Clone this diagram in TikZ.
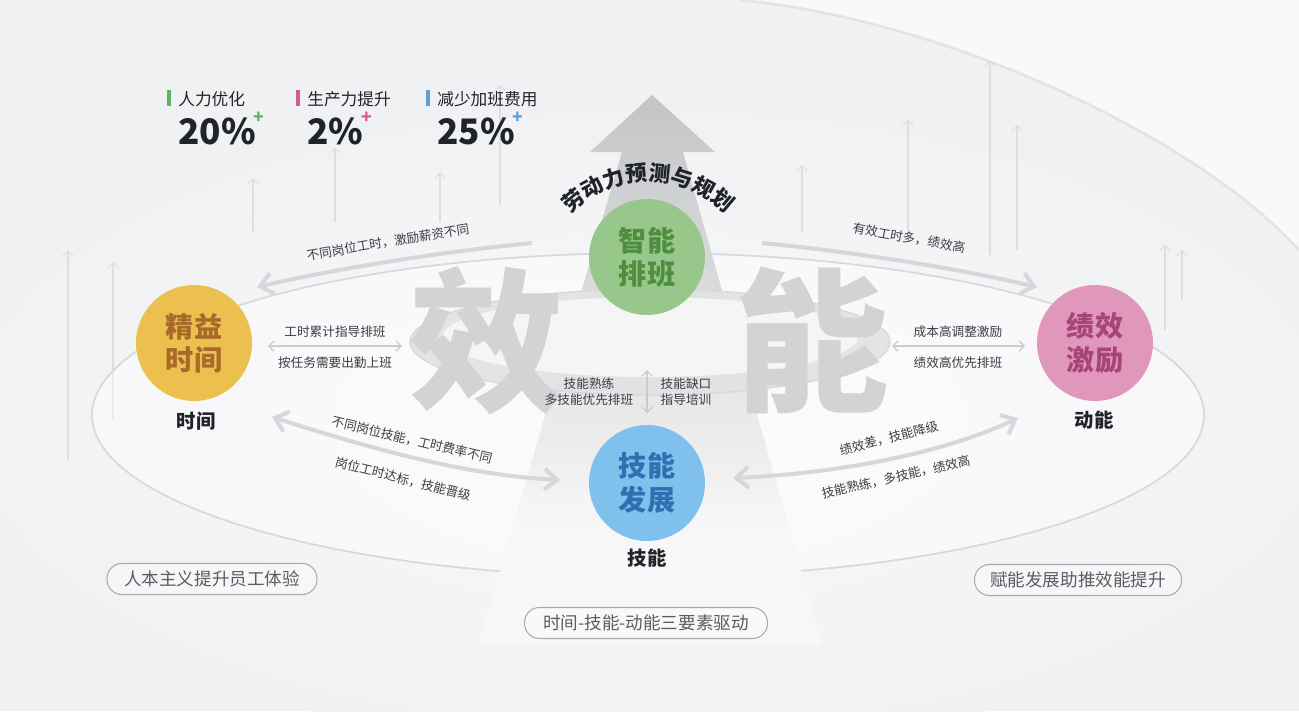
\documentclass[tikz,border=0pt]{standalone}
\usepackage{fontspec}
\setmainfont{Noto Sans CJK SC}
\usetikzlibrary{arrows.meta,decorations.text,positioning}
\definecolor{bgc}{HTML}{F0F1F3}
\definecolor{glowc}{HTML}{F9F9FA}
\definecolor{txtc}{HTML}{3A3D44}
\definecolor{darkc}{HTML}{20232B}
\definecolor{arrc}{HTML}{D5D7DA}
\definecolor{twinc}{HTML}{C9CBCE}
\definecolor{ghostc}{HTML}{DDDEE1}
\definecolor{rimc}{HTML}{D8D9DC}
\definecolor{dishc}{HTML}{E1E2E4}
\definecolor{grnc}{HTML}{98C78B}
\definecolor{grnt}{HTML}{4F8D3F}
\definecolor{ylwc}{HTML}{ECC04F}
\definecolor{ylwt}{HTML}{A86A2B}
\definecolor{pnkc}{HTML}{E197BC}
\definecolor{pnkt}{HTML}{A6457A}
\definecolor{bluc}{HTML}{80C0EC}
\definecolor{blut}{HTML}{2F70B2}
\definecolor{pilc}{HTML}{5A5D63}
\definecolor{pilb}{HTML}{A9ABAF}
\definecolor{sgrn}{HTML}{5DB463}
\definecolor{spnk}{HTML}{D9589A}
\definecolor{sblu}{HTML}{5B9FDA}
\definecolor{bigc}{HTML}{D2D3D5}
\definecolor{beamt}{HTML}{C4C5C7}
\definecolor{beamb}{HTML}{F7F7F8}
\begin{document}
\begin{tikzpicture}[x=0.02cm,y=-0.02cm,>={Straight Barb[length=7pt,width=12pt]},
  hub/.style={circle,minimum size=2.32cm,inner sep=0pt,align=center,font=\fontsize{16}{19}\selectfont\bfseries},
  tagcap/.style={font=\fontsize{11}{13}\selectfont\bfseries,text=darkc,inner sep=1pt},
  lbl/.style={font=\fontsize{7.2}{9}\selectfont,text=txtc,inner sep=1pt},
  flow/.style={draw=arrc,line width=2.3pt},
  twin/.style={draw=twinc,line width=0.7pt,{Straight Barb[length=3pt,width=6pt]}-{Straight Barb[length=3pt,width=6pt]}},
  ghost/.style={draw=ghostc,line width=0.6pt,-{Straight Barb[length=3pt,width=6pt]}},
  pill/.style={draw=pilb,line width=0.6pt,rounded corners=0.3cm,minimum width=#1,minimum height=0.62cm,
    font=\fontsize{10}{12}\selectfont,text=pilc,fill=white,fill opacity=0.35,text opacity=1},
  stt/.style={font=\fontsize{9.5}{11}\selectfont,text=darkc,inner sep=0pt,anchor=west},
  num/.style={font=\fontsize{20}{22}\selectfont\bfseries,text=darkc,inner sep=0pt,anchor=west},
  pls/.style={font=\fontsize{10}{10}\selectfont\bfseries,inner sep=0pt},
  bigch/.style={font=\fontsize{88}{88}\selectfont\bfseries,text=bigc,inner sep=0pt}]
\useasboundingbox (0,0) rectangle (1299,711);
\clip (0,0) rectangle (1299,711);
\fill[bgc] (0,0) rectangle (1299,711);
\shade[inner color=glowc,outer color=bgc] (648,420) ellipse [x radius=720,y radius=330];
\fill[glowc] (740,0) .. controls (950,20) and (1200,140) .. (1299,250) -- (1299,0) -- cycle;
\draw[rimc,line width=1.5pt,opacity=0.6] (740,0) .. controls (950,20) and (1200,140) .. (1299,250);
% background rising lines
\foreach \x/\t/\b in {68/250/460,113/262/420,253/178/232,335/147/222,440/172/222,500/85/205,
  802/165/232,908/120/237,990/60/255,1017/125/250,1165/245/330,1182/250/300}{
  \draw[ghost] (\x,\b) -- (\x,\t);
}
% platform and beam
\draw[rimc,line width=1pt,fill=white,fill opacity=0.45] (648,415) ellipse [x radius=556,y radius=162];
\begin{scope}
\clip (652,95) -- (715,152) -- (683,152) -- (822,645) -- (478,645) -- (622,152) -- (590,152) -- cycle;
\foreach \i in {0,...,55}{
  \pgfmathtruncatemacro{\p}{max(0,100-2.3*\i)}
  \fill[beamt!\p!beamb] (470,95+10*\i) rectangle (835,106+10*\i);
}
\end{scope}
\fill[dishc,opacity=0.9] (650,342) ellipse [x radius=240,y radius=53];
\draw[rimc,line width=0.8pt] (650,342) ellipse [x radius=240,y radius=53];
\fill[glowc,opacity=0.85] (650,337) ellipse [x radius=208,y radius=40];
\node[bigch] (xiao) at (487,341) {效};
\node[bigch] (neng) at (812,340) {能};
% four hubs
\node[hub,fill=grnc,text=grnt] (zn) at (647,257) {智能\\排班};
\node[hub,fill=ylwc,text=ylwt] (jy) at (194,343) {精益\\时间};
\node[hub,fill=pnkc,text=pnkt] (jx) at (1095,343) {绩效\\激励};
\node[hub,fill=bluc,text=blut] (jn) at (647,483) {技能\\发展};
\node[tagcap] (jyc) at (196,421) {时间};
\node[tagcap] (jxc) at (1094,420) {动能};
\node[tagcap] (jnc) at (647,558) {技能};
\path[decorate,decoration={text along path,text align=center,text color=darkc,
  text={|\fontsize{12.3}{14}\selectfont\bfseries|劳动力预测与规划}}]
  (564.07,221.03) arc[start angle=-141,end angle=-39,radius=108];
% connectors
\coordinate (tl1) at (532,243); \coordinate (tl2) at (257,287);
\coordinate (tr1) at (762,243); \coordinate (tr2) at (1037,287);
\coordinate (bl1) at (272,417); \coordinate (bl2) at (560,480);
\coordinate (br1) at (733,478); \coordinate (br2) at (1018,418);
\draw[flow,->] (tl1) .. controls (440,252) and (340,268) .. (tl2);
\draw[flow,->] (tr1) .. controls (855,252) and (955,268) .. (tr2);
\draw[flow,<->] (bl1) .. controls (360,445) and (460,475) .. (bl2);
\draw[flow,<->] (br1) .. controls (830,474) and (940,455) .. (br2);
\coordinate (ml1) at (268,346); \coordinate (ml2) at (402,346);
\coordinate (mr1) at (892,346); \coordinate (mr2) at (1025,346);
\coordinate (mc1) at (647,370); \coordinate (mc2) at (647,413);
\draw[twin] (ml1) -- (ml2);
\draw[twin] (mr1) -- (mr2);
\draw[twin] (mc1) -- (mc2);
% labels
\node[lbl,rotate=9.5] (l1) at (388,242) {不同岗位工时，激励薪资不同};
\node[lbl,rotate=-10] (l2) at (909,238) {有效工时多，绩效高};
\node[lbl] (l3) at (335,332) {工时累计指导排班};
\node[lbl] (l4) at (335,363) {按任务需要出勤上班};
\node[lbl] (l5) at (958,332) {成本高调整激励};
\node[lbl] (l6) at (958,363) {绩效高优先排班};
\node[lbl,align=center] (l7) at (589,392) {技能熟练\\多技能优先排班};
\node[lbl,align=center] (l8) at (686,392) {技能缺口\\指导培训};
\node[lbl,rotate=-13.5] (l9) at (412,440) {不同岗位技能，工时费率不同};
\node[lbl,rotate=-14] (l10) at (403,479) {岗位工时达标，技能晋级};
\node[lbl,rotate=14.5] (l11) at (889,438) {绩效差，技能降级};
\node[lbl,rotate=13] (l12) at (896,477) {技能熟练，多技能，绩效高};
% results
\foreach \x/\c/\t/\n/\k in {167/sgrn/人力优化/20/a,296/spnk/生产力提升/2/b,426/sblu/减少加班费用/25/c}{
  \fill[\c] (\x,90) rectangle ++(4,16);
  \node[stt] (t\k) at (\x+11,99) {\t};
  \node[num] (n\k) at (\x+11,131) {\n\%};
  \node[pls,text=\c] at ([shift={(3,-13)}]n\k.east) {+};
}
\node[pill=4.2cm] (p1) at (212,579) {人本主义提升员工体验};
\node[pill=4.14cm] (p2) at (1078,580) {赋能发展助推效能提升};
\node[pill=4.86cm] (p3) at (646,623) {时间-技能-动能三要素驱动};
\end{tikzpicture}
\end{document}
